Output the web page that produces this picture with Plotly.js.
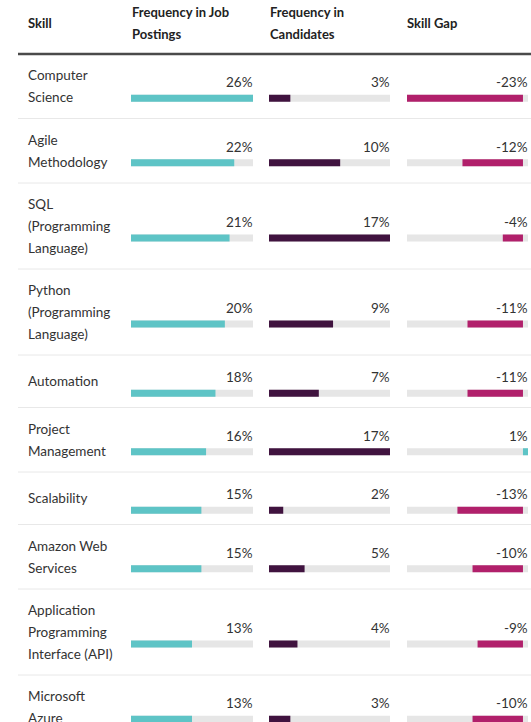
<!DOCTYPE html>
<html>
<head>
<meta charset="utf-8">
<script src="https://cdn.plot.ly/plotly-3.0.1.min.js"></script>
<style>
html,body{margin:0;padding:0;background:#fff;}
#chart{width:531px;height:722px;}
</style>
</head>
<body>
<div id="chart"></div>
<script>
// ---- data ----
const skills = ["Computer<br>Science", "Agile<br>Methodology", "SQL<br>(Programming<br>Language)",
  "Python<br>(Programming<br>Language)", "Automation", "Project<br>Management", "Scalability",
  "Amazon Web<br>Services", "Application<br>Programming<br>Interface (API)", "Microsoft<br>Azure"];
const jobFreq  = [26, 22, 21, 20, 18, 16, 15, 15, 13, 13];
const candFreq = [3, 10, 17, 9, 7, 17, 2, 5, 4, 3];
const skillGap = [-23, -12, -4, -11, -11, 1, -13, -10, -9, -10];
const headers = ["Skill", "Frequency in Job<br>Postings", "Frequency in<br>Candidates", "Skill Gap"];

// ---- layout geometry (pixels) ----
const W = 531, H = 722;
const TEAL = "#5ec4c6", PURPLE = "#40133f", MAGENTA = "#b1206b", TRACK = "#e6e6e6";
const FONT = "Lato, 'Open Sans', sans-serif";
const headerX = [27, 131, 269, 406];
const colDomains = [[131, 253], [269, 390], [407, 528]];
const headerLine = 54;
const lineH = 22;

// row geometry from number of text lines
const rows = [];
let yCursor = headerLine;
skills.forEach(s => {
  const lines = s.split("<br>");
  const h = Math.max(52.5, 21.5 * (lines.length + 1));
  const c = yCursor + h / 2;
  rows.push({lines, rowTop: yCursor, bottom: yCursor + h, center: c, bar: c + 12, label: c - 4});
  yCursor += h;
});
const barY = rows.map(r => r.bar);

const cols = [
  {vals: jobFreq, ax: "x", color: jobFreq.map(() => TEAL)},
  {vals: candFreq, ax: "x2", color: candFreq.map(() => PURPLE)},
  {vals: skillGap, ax: "x3", color: skillGap.map(v => v < 0 ? MAGENTA : TEAL)}
];

const traces = [];
const annotations = [];
const layout = {
  width: W, height: H,
  margin: {l: 0, r: 0, t: 0, b: 0},
  paper_bgcolor: "#fff", plot_bgcolor: "rgba(0,0,0,0)",
  showlegend: false, barmode: "overlay",
  font: {family: FONT, color: "#333"},
  yaxis: {range: [H, 0], domain: [0, 1], visible: false, fixedrange: true},
  shapes: [], annotations: annotations
};

cols.forEach((col, i) => {
  const lo = Math.min(0, ...col.vals), hi = Math.max(0, ...col.vals);
  const axName = i === 0 ? "xaxis" : "xaxis" + (i + 1);
  layout[axName] = {
    domain: [colDomains[i][0] / W, colDomains[i][1] / W],
    range: [lo, hi], visible: false, anchor: "y", fixedrange: true
  };
  // track
  traces.push({
    type: "bar", orientation: "h", xaxis: col.ax, yaxis: "y",
    y: barY, x: col.vals.map(() => hi - lo), base: col.vals.map(() => lo),
    width: 7, marker: {color: TRACK, line: {width: 0}}, hoverinfo: "skip"
  });
  // values
  traces.push({
    type: "bar", orientation: "h", xaxis: col.ax, yaxis: "y",
    y: barY, x: col.vals, base: col.vals.map(() => 0),
    width: 7, marker: {color: col.color, line: {width: 0}}
  });
  // percent labels
  col.vals.forEach((v, k) => {
    annotations.push({
      xref: col.ax, yref: "y", x: hi, y: rows[k].label, xshift: 2,
      xanchor: "right", yanchor: "middle", showarrow: false,
      text: v + "%", font: {family: FONT, size: 13.5, color: "#333"}
    });
  });
});

// skill names
rows.forEach(r => {
  const n = r.lines.length;
  r.lines.forEach((t, j) => {
    annotations.push({
      xref: "paper", yref: "y", x: (headerX[0] - 1) / W, y: r.center + (j - (n - 1) / 2) * lineH,
      xanchor: "left", yanchor: "middle", showarrow: false,
      text: t, font: {family: FONT, size: 13.5, color: "#333"}
    });
  });
});

// headers
headers.forEach((h, i) => {
  const lines = h.split("<br>");
  const n = lines.length;
  lines.forEach((t, j) => {
    annotations.push({
      xref: "paper", yref: "y", x: (headerX[i] - 1) / W, y: 23 + (j - (n - 1) / 2) * lineH,
      xanchor: "left", yanchor: "middle", showarrow: false,
      text: "<b>" + t + "</b>", font: {family: FONT, size: 13, color: "#222"}
    });
  });
});

// header rule and row separators
layout.shapes.push({type: "line", xref: "paper", yref: "y", x0: 18 / W, x1: 1, y0: headerLine, y1: headerLine,
  line: {color: "#4a4a4a", width: 2.5}});
rows.slice(0, -1).forEach(r => {
  layout.shapes.push({type: "line", xref: "paper", yref: "y", x0: 18 / W, x1: 1, y0: r.bottom, y1: r.bottom,
    line: {color: "#e8e8e8", width: 1}});
});

Plotly.newPlot("chart", traces, layout, {staticPlot: true, displayModeBar: false});
</script>
</body>
</html>
